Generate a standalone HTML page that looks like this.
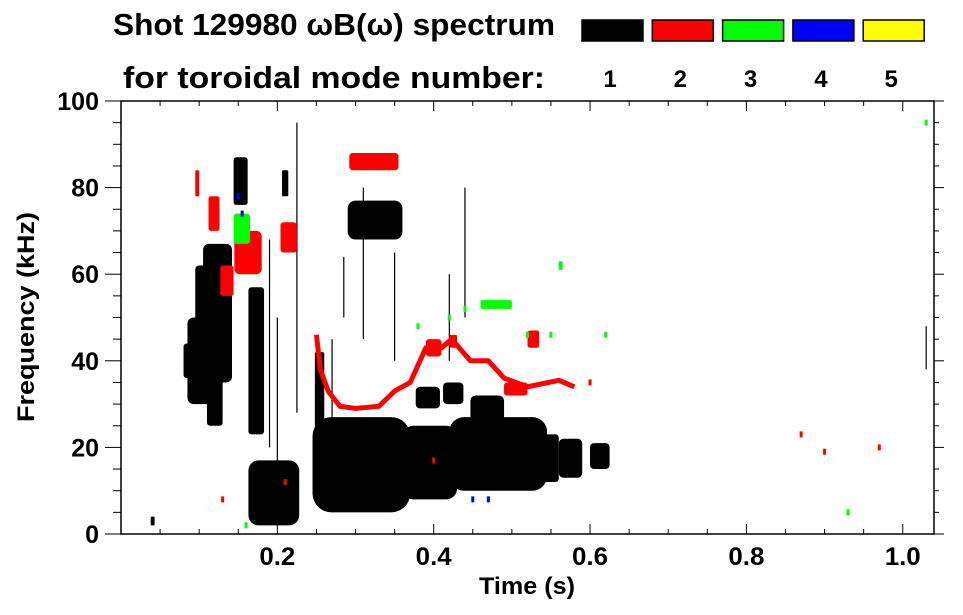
<!DOCTYPE html>
<html><head><meta charset="utf-8">
<style>
html,body{margin:0;padding:0;background:#fff;}
svg{display:block;font-family:"Liberation Sans",Arial,sans-serif;font-weight:bold;}
</style></head>
<body>
<svg id="chart" width="963" height="615" viewBox="0 0 963 615" xmlns="http://www.w3.org/2000/svg">
  <text x="113" y="35" font-size="31" textLength="442" lengthAdjust="spacingAndGlyphs">Shot 129980 ωB(ω) spectrum</text>
  <text x="123" y="88" font-size="31" textLength="422" lengthAdjust="spacingAndGlyphs">for toroidal mode number:</text>
  <g id="legend"></g>
  <g id="marks"></g>
  <g id="axes"></g>
  <text x="527" y="594" font-size="24" text-anchor="middle" textLength="96" lengthAdjust="spacingAndGlyphs">Time (s)</text>
  <text transform="translate(34,317) rotate(-90)" font-size="24" text-anchor="middle" textLength="210" lengthAdjust="spacingAndGlyphs">Frequency (kHz)</text>
</svg>
<script>
// ---- data ----
const modeNumbers = [1, 2, 3, 4, 5];
const modeColors = ["#000000", "#ff0000", "#00ff00", "#0000ff", "#ffff00"];
const xTicks = [0.2, 0.4, 0.6, 0.8, 1.0];
const xTickLabels = ["0.2", "0.4", "0.6", "0.8", "1.0"];
const yTicks = [0, 20, 40, 60, 80, 100];
const yTickLabels = ["0", "20", "40", "60", "80", "100"];
// blobs: [tStart, tEnd, fLow, fHigh] in s / kHz
const mode1Blobs = [
  [0.085,0.125,30,50],[0.105,0.142,35,67],[0.095,0.12,48,62],[0.08,0.1,36,44],
  [0.11,0.13,25,40],
  [0.163,0.183,23,57],[0.144,0.162,76,87],[0.206,0.214,78,84],
  [0.163,0.228,2,17],[0.17,0.2,4,15],
  [0.245,0.37,5,27],[0.248,0.26,20,42],[0.36,0.43,8,25],[0.42,0.545,10,27],
  [0.54,0.56,12,23],[0.56,0.59,13,22],[0.6,0.625,15,21],
  [0.377,0.408,29,34],[0.412,0.438,30,35],[0.447,0.49,26,32],
  [0.29,0.36,68,77],[0.038,0.043,2,4]
];
const mode1Streaks = [
  [0.19,20,68],[0.2,12,50],[0.225,28,95],[0.31,45,80],[0.27,10,45],
  [0.35,40,65],[0.42,40,60],[0.44,50,80],[1.03,38,48],[0.285,50,64]
];
const mode2Blobs = [
  [0.292,0.355,84,88],[0.127,0.144,55,62],[0.112,0.126,70,78],[0.204,0.225,65,72],
  [0.145,0.18,60,70],[0.39,0.41,41,45],[0.42,0.43,43,46],[0.52,0.535,43,47],
  [0.49,0.52,32,35],[0.095,0.1,78,84]
];
const mode2LineT = [0.25,0.255,0.265,0.28,0.30,0.33,0.35,0.37,0.39,0.41,0.423,0.447,0.47,0.49,0.52,0.56,0.58];
const mode2LineF = [46,38,33,29.5,29,29.5,33,35,43,43,45,40,40,36,34,35.5,34];
const mode2Dots = [[0.87,23],[0.9,19],[0.97,20],[0.13,8],[0.21,12],[0.4,17],[0.6,35]];
const mode3Blobs = [[0.144,0.165,67,74],[0.46,0.5,52,54],[0.56,0.565,61,63]];
const mode3Dots = [[0.38,48],[0.42,50],[0.44,52],[0.52,46],[0.55,46],[0.93,5],[1.03,95],[0.16,2],[0.62,46]];
const mode4Dots = [[0.15,78],[0.155,74],[0.45,8],[0.47,8]];

// ---- geometry ----
const X0 = 121, X1 = 934, Y0 = 534, Y1 = 101, TMAX = 1.04, FMAX = 100;
const xs = t => X0 + t / TMAX * (X1 - X0);
const ys = f => Y0 - f / FMAX * (Y0 - Y1);
const NS = "http://www.w3.org/2000/svg";
function mk(tag, parent, attrs) {
  const e = document.createElementNS(NS, tag);
  for (const k in attrs) e.setAttribute(k, attrs[k]);
  parent.appendChild(e);
  return e;
}
const marks = document.getElementById("marks");
const axes = document.getElementById("axes");
const legend = document.getElementById("legend");

function drawBlobs(list, color, name) {
  list.forEach(b => {
    const x = xs(b[0]), w = xs(b[1]) - xs(b[0]);
    const y = ys(b[3]), h = ys(b[2]) - ys(b[3]);
    const r = Math.min(w, h) * 0.2;
    const el = mk("rect", marks, {x: x, y: y, width: w, height: h, rx: r, ry: r, fill: color});
    
    
  });
}
drawBlobs(mode1Blobs, modeColors[0], "mode1-blob");
mode1Streaks.forEach(s => {
  const el = mk("line", marks, {x1: xs(s[0]), x2: xs(s[0]), y1: ys(s[1]), y2: ys(s[2]), stroke: "#000", "stroke-width": 1.2});
  
  
});
drawBlobs(mode2Blobs, modeColors[1], "mode2-blob");
const pts = mode2LineT.map((t, i) => xs(t) + "," + ys(mode2LineF[i])).join(" ");
const pl = mk("polyline", marks, {points: pts, fill: "none", stroke: modeColors[1], "stroke-width": 5, "stroke-linejoin": "round"});


function drawDots(list, color, name) {
  list.forEach(d => {
    const el = mk("rect", marks, {x: xs(d[0]) - 1.5, y: ys(d[1]) - 3, width: 3, height: 6, fill: color});
    
    
  });
}
drawDots(mode2Dots, modeColors[1], "mode2-dot");
drawBlobs(mode3Blobs, modeColors[2], "mode3-blob");
drawDots(mode3Dots, modeColors[2], "mode3-dot");
drawDots(mode4Dots, modeColors[3], "mode4-dot");

// frame
const fr = mk("rect", axes, {x: X0, y: Y1, width: X1 - X0, height: Y0 - Y1, fill: "none", stroke: "#000", "stroke-width": 1.5});


for (let i = 1; i * 0.05 < TMAX; i++) {
  const t = i * 0.05, major = i % 4 === 0, len = major ? 10 : 5;
  mk("line", axes, {x1: xs(t), x2: xs(t), y1: Y0, y2: Y0 - len, stroke: "#000", "stroke-width": 1});
  mk("line", axes, {x1: xs(t), x2: xs(t), y1: Y1, y2: Y1 + len, stroke: "#000", "stroke-width": 1});
}
xTicks.forEach((t, i) => {
  const el = mk("text", axes, {x: xs(t), y: 565, "font-size": 25, "text-anchor": "middle", textLength: 36, lengthAdjust: "spacingAndGlyphs"});
  el.textContent = xTickLabels[i];
  
  
});
for (let f = 0; f <= 100; f += 5) {
  const major = f % 20 === 0, len = major ? 16 : 8;
  mk("line", axes, {x1: X0, x2: X0 - len, y1: ys(f), y2: ys(f), stroke: "#000", "stroke-width": 1});
  mk("line", axes, {x1: X1, x2: X1 + (major ? 10 : 5), y1: ys(f), y2: ys(f), stroke: "#000", "stroke-width": 1});
}
yTicks.forEach((f, i) => {
  const el = mk("text", axes, {x: 99, y: ys(f) + 9, "font-size": 25, "text-anchor": "end"});
  el.textContent = yTickLabels[i];
  
  
});
modeNumbers.forEach((m, i) => {
  const x = 582 + i * 70.3;
  const r = mk("rect", legend, {x: x, y: 20, width: 61, height: 21, fill: modeColors[i], stroke: "#000", "stroke-width": 1.5});
  
  
  const t = mk("text", legend, {x: x + 28, y: 87, "font-size": 24, "text-anchor": "middle"});
  t.textContent = String(m);
  
  
});
</script>
</body></html>
